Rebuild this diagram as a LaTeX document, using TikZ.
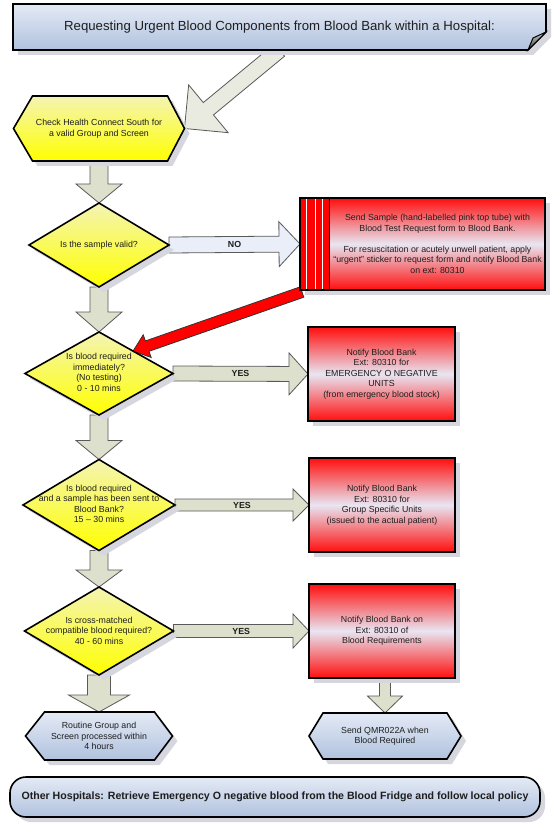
\documentclass[tikz,border=0pt]{standalone}
\usepackage{fontspec}
\setmainfont{Liberation Sans}
\usetikzlibrary{calc,shapes.geometric,shadows}
\pgfdeclarelayer{bglayer}
\pgfdeclarelayer{arrowlayer}
\pgfdeclarelayer{shapelayer}
\pgfsetlayers{bglayer,arrowlayer,shapelayer,main}
\definecolor{arrowfill}{RGB}{221,224,204}
\definecolor{bigarrowfill}{RGB}{233,234,224}
\definecolor{noarrowfill}{RGB}{233,238,248}
\definecolor{yellowtop}{RGB}{244,244,180}
\definecolor{yellowbot}{RGB}{255,255,0}
\definecolor{redtop}{RGB}{255,14,14}
\definecolor{redmid}{RGB}{232,230,242}
\definecolor{bluetop}{RGB}{228,234,245}
\definecolor{bluebot}{RGB}{176,194,222}
\definecolor{shadowgray}{RGB}{214,215,222}
\definecolor{txtcol}{RGB}{30,30,30}
\tikzset{
  shapeline/.style={draw=black, line width=1.6pt, line join=miter},
  myshadow/.style={drop shadow={shadow xshift=5pt, shadow yshift=-5pt, fill=shadowgray, opacity=1, draw=none}},
  yellowshape/.style={shapeline, top color=yellowtop, bottom color=yellowbot, myshadow},
  blueshape/.style={shapeline, top color=bluetop, bottom color=bluebot, myshadow},
  redbox/.style={shapeline, top color=redtop, bottom color=redtop, middle color=redmid, myshadow,
    inner sep=0pt, outer sep=0pt, align=center, text=txtcol, font=\fontsize{8.8}{10.5}\selectfont},
  txt/.style={inner sep=0pt, outer sep=0pt, align=center, text=txtcol, font=\fontsize{8.8}{10.5}\selectfont},
  dia/.style={diamond, yellowshape, inner sep=0pt, outer sep=0pt},
  lbl/.style={inner sep=0pt, text=txtcol, font=\bfseries\fontsize{8.8}{10.5}\selectfont},
  arrowbase/.style={draw=black!65, line width=0.8pt, line join=miter},
  greyarrow/.style={arrowbase, fill=arrowfill},
  bigarrow/.style={arrowbase, fill=bigarrowfill},
  noarrow/.style={arrowbase, fill=noarrowfill},
  redarrow/.style={draw=black!80, line width=0.8pt, line join=miter, fill=red},
}
% block arrow: style, from, to, half shaft, half head, head length
\newcommand{\blockarr}[6]{%
  \coordinate (bac) at ($(#3)!#6!(#2)$);
  \path[#1] ($(#2)!#4!90:(#3)$) -- ($(bac)!#4!-90:(#2)$) -- ($(bac)!#5!-90:(#2)$) -- (#3)
    -- ($(bac)!#5!90:(#2)$) -- ($(bac)!#4!90:(#2)$) -- ($(#2)!#4!-90:(#3)$) -- cycle;}
% hexagon around a node: style, node, left chamfer, right chamfer
\newcommand{\hexshape}[4]{%
  \path[#1] (#2.west) -- ($(#2.north west)+(#3,0)$) -- ($(#2.north east)+(-#4,0)$) -- (#2.east)
    -- ($(#2.south east)+(-#4,0)$) -- ($(#2.south west)+(#3,0)$) -- cycle;}
\begin{document}
\begin{tikzpicture}[x=1pt,y=-1pt]
\useasboundingbox (0,0) rectangle (553,826);
\begin{pgfonlayer}{bglayer}
\fill[white] (0,0) rectangle (553,826);
\end{pgfonlayer}

% ---------- title ----------
\node[txt, font=\fontsize{13.2}{15}\selectfont, minimum width=533pt, minimum height=46pt] (title) at (279.5,27)
  {Requesting Urgent Blood Components from Blood Bank within a Hospital:};
\begin{pgfonlayer}{shapelayer}
\path[blueshape] (title.north west) -- (title.north east) -- ($(title.south east)+(0,-18)$)
  -- ($(title.south east)+(-18,0)$) -- (title.south west) -- cycle;
\path[draw=black, line width=1pt, top color=black!20, bottom color=black!75]
  ($(title.south east)+(0,-18)$) -- ($(title.south east)+(-18,0)$) -- ($(title.south east)+(-13,-12)$) -- cycle;
\end{pgfonlayer}

% ---------- left column ----------
\node[txt, minimum width=171pt, minimum height=65pt] (h1) at (99,128.5)
  {Check Health Connect South for\\a valid Group and Screen};
\begin{pgfonlayer}{shapelayer}
\hexshape{yellowshape}{h1}{19}{17}
\end{pgfonlayer}

\node[dia, minimum width=140pt, minimum height=84pt] (d1) at (99,245) {};
\node[txt] (d1t) at (d1) {Is the sample valid?};

\node[dia, minimum width=148pt, minimum height=83pt] (d2) at (99,373.5) {};
\node[txt] (d2t) at (99,372.5) {Is blood required\\immediately?\\(No testing)\\0 - 10 mins};

\node[dia, minimum width=152pt, minimum height=91pt] (d3) at (99,505) {};
\node[txt] (d3t) at (99,504) {Is blood required\\and a sample has been sent to\\Blood Bank?\\15 – 30 mins};

\node[dia, minimum width=149pt, minimum height=88pt] (d4) at (99,631) {};
\node[txt] (d4t) at (99,630.5) {Is cross-matched\\compatible blood required?\\40 - 60 mins};

\node[txt, minimum width=147pt, minimum height=48pt] (h2) at (99,736)
  {Routine Group and\\Screen processed within\\4 hours};
\begin{pgfonlayer}{shapelayer}
\hexshape{blueshape}{h2}{19}{18}
\end{pgfonlayer}

% ---------- right column ----------
\node[redbox, minimum width=245pt, minimum height=92pt] (r1) at (422.5,244) {};
\fill[red] (r1.north west) rectangle ($(r1.south west)+(29.3,0)$);
\foreach \xo in {6.7,15,22.7}
  \draw[white, line width=1pt] ($(r1.north west)+(\xo,0)$) -- ($(r1.south west)+(\xo,0)$);
\draw[black, line width=1.6pt] ($(r1.north west)+(29.3,0)$) -- ($(r1.south west)+(29.3,0)$);
\draw[shapeline] (r1.north west) rectangle (r1.south east);
\node[txt] (r1t) at ($(r1.center)+(15,0)$)
  {Send Sample (hand-labelled pink top tube) with\\Blood Test Request form to Blood Bank.\\[10.5pt]For resuscitation or acutely unwell patient, apply\\“urgent” sticker to request form and notify Blood Bank\\on ext: 80310};

\node[redbox, minimum width=147pt, minimum height=94pt] (r2) at (381.5,374)
  {Notify Blood Bank\\Ext: 80310 for\\EMERGENCY O NEGATIVE\\UNITS\\(from emergency blood stock)};
\node[redbox, minimum width=146pt, minimum height=94pt] (r3) at (382,505)
  {Notify Blood Bank\\Ext: 80310 for\\Group Specific Units\\(issued to the actual patient)};
\node[redbox, minimum width=146pt, minimum height=94pt] (r4) at (382,631)
  {Notify Blood Bank on\\Ext: 80310 of\\Blood Requirements};

\node[txt, minimum width=152pt, minimum height=46pt] (h3) at (385,736)
  {Send QMR022A when\\Blood Required};
\begin{pgfonlayer}{shapelayer}
\hexshape{blueshape}{h3}{14}{14}
\end{pgfonlayer}

% ---------- banner ----------
\node[blueshape, rounded corners=16pt, minimum width=530pt, minimum height=40pt, inner sep=0pt,
  text=txtcol, font=\bfseries\fontsize{10.6}{12}\selectfont] (bn) at (275,797)
  {Other Hospitals: Retrieve Emergency O negative blood from the Blood Fridge and follow local policy};

% ---------- connectors ----------
\coordinate (redtail) at ($(r1.south west)+(2,2)$);
\coordinate (redtip) at ($(d2.north)!0.46!(d2.east)$);
\coordinate (r4out) at (r4.south -| h3.north);
\begin{pgfonlayer}{arrowlayer}
\blockarr{bigarrow}{title.south}{h1.east}{8pt}{31pt}{31pt}
\blockarr{greyarrow}{h1.south}{d1.north}{9pt}{23pt}{19pt}
\blockarr{greyarrow}{d1.south}{d2.north}{9pt}{23pt}{20pt}
\blockarr{greyarrow}{d2.south}{d3.north}{9pt}{23pt}{19pt}
\blockarr{greyarrow}{d3.south}{d4.north}{9pt}{23pt}{17pt}
\blockarr{greyarrow}{d4.south}{h2.north}{11.5pt}{30.5pt}{17pt}
\blockarr{greyarrow}{r4out}{h3.north}{5.5pt}{17.5pt}{17pt}
\blockarr{noarrow}{d1.east}{r1.west}{8pt}{22.5pt}{21pt}
\blockarr{greyarrow}{d2.east}{r2.west}{7.5pt}{21pt}{19pt}
\blockarr{greyarrow}{d3.east}{r3.west}{6pt}{16pt}{16pt}
\blockarr{greyarrow}{d4.east}{r4.west}{6.5pt}{17pt}{16pt}
\blockarr{redarrow}{redtail}{redtip}{5.5pt}{12pt}{15pt}
\end{pgfonlayer}
\node[lbl] (nolbl) at ($(d1.east)!0.5!(r1.west)$) {NO};
\node[lbl] (yes2) at ($(d2.east)!0.5!(r2.west)$) {YES};
\node[lbl] (yes3) at ($(d3.east)!0.5!(r3.west)$) {YES};
\node[lbl] (yes4) at ($(d4.east)!0.5!(r4.west)$) {YES};
\end{tikzpicture}
\end{document}
